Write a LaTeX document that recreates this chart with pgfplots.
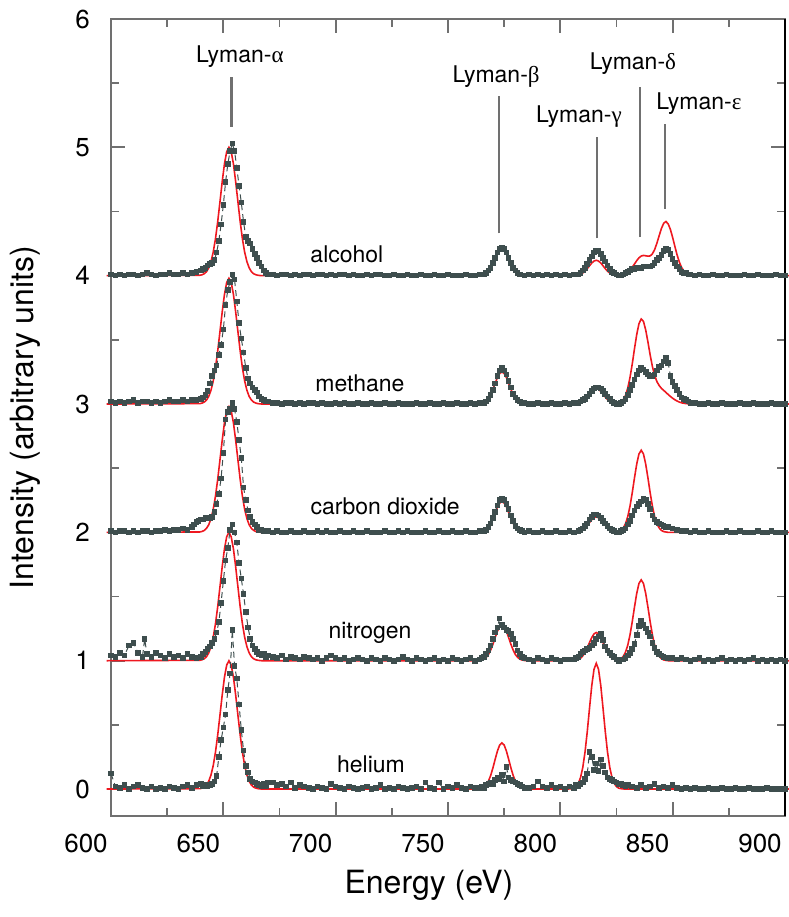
\documentclass[border=0pt]{standalone}
\usepackage{fontspec}
\setmainfont{TeX Gyre Heros}
\newfontfamily\greekfont{Liberation Serif}
\usepackage{pgfplots}
\pgfplotsset{compat=1.18}
\usetikzlibrary{calc}
\definecolor{dgray}{RGB}{62,78,78}
\definecolor{fitred}{RGB}{238,24,32}
\definecolor{axgray}{RGB}{112,112,112}
\begin{document}
\begin{tikzpicture}
\begin{axis}[
  scale only axis, width=337pt, height=398.5pt,
  xmin=600, xmax=900, ymin=-0.21, ymax=6,
  xtick={600,650,...,900}, minor xtick={625,675,...,875},
  ytick={0,1,...,6}, minor ytick={0.5,1.5,...,5.5},
  tick align=inside, major tick length=7pt, minor tick length=4pt,
  tick style={axgray, line width=0.9pt},
  axis line style={axgray, line width=1pt},
  ticklabel style={font=\fontsize{13}{13}\selectfont},
  /pgf/number format/assume math mode=true,
  /pgf/number format/1000 sep={},
  xticklabel style={xshift=-12.5pt, yshift=-5.5pt},
  yticklabel style={xshift=-7pt},
  xlabel={Energy (eV)}, ylabel={Intensity (arbitrary units)},
  label style={font=\fontsize{16}{16}\selectfont},
  xlabel style={at={(axis description cs:0.5,0)}, anchor=center, yshift=-34.5pt, xshift=-9.5pt},
  ylabel style={at={(axis description cs:0,0.5)}, anchor=center, rotate=0, yshift=43pt},
  clip=false,
]
% ---------------- fits (red) ----------------
\addplot[fitred, line width=0.8pt] coordinates {(598,4) (639.5,4.003) (640.5,4.007) (641.5,4.015) (642.5,4.031) (643.5,4.061) (644.5,4.109) (645.5,4.183) (646.5,4.287) (647.5,4.421) (648.5,4.575) (649.5,4.732) (650.5,4.871) (651.5,4.966) (652.5,5.0) (653.5,4.966) (654.5,4.871) (655.5,4.732) (656.5,4.575) (657.5,4.421) (658.5,4.287) (659.5,4.183) (660.5,4.109) (661.5,4.061) (662.5,4.031) (663.5,4.015) (664.5,4.007) (665.5,4.003) (667,4)
(763,4) (764,4.002) (765,4.004) (766,4.010) (767,4.021) (768,4.040) (769,4.068) (770,4.105) (771,4.148) (772,4.189) (773,4.219) (774,4.230) (775,4.219) (776,4.189) (777,4.148) (778,4.105) (779,4.068) (780,4.040) (781,4.021) (782,4.010) (783,4.004) (784,4.002) (785,4)
(805,4) (806,4.001) (807,4.002) (808,4.005) (809,4.011) (810,4.021) (811,4.035) (812,4.055) (813,4.077) (814,4.099) (815,4.114) (816,4.120) (817,4.114) (818,4.099) (819,4.077) (820,4.055) (821,4.035) (822,4.021) (823,4.011) (824,4.005) (825,4.003) (826,4.003) (827,4.004) (828,4.008) (829,4.015) (830,4.027) (831,4.044) (832,4.066) (833,4.091) (834,4.117) (835,4.139) (836,4.153) (837,4.158) (838,4.155) (839,4.152) (840,4.154) (841,4.171) (842,4.204) (843,4.254) (844,4.312) (845,4.368) (846,4.408) (847,4.422) (848,4.404) (849,4.360) (850,4.297) (851,4.227) (852,4.160) (853,4.105) (854,4.063) (855,4.036) (856,4.019) (857,4.009) (858,4.004) (859,4.002) (860,4) (902,4)};
\addplot[fitred, line width=0.8pt] coordinates {(598,3) (639.5,3.003) (640.5,3.007) (641.5,3.015) (642.5,3.031) (643.5,3.059) (644.5,3.107) (645.5,3.179) (646.5,3.281) (647.5,3.413) (648.5,3.564) (649.5,3.717) (650.5,3.854) (651.5,3.947) (652.5,3.98) (653.5,3.947) (654.5,3.854) (655.5,3.717) (656.5,3.564) (657.5,3.413) (658.5,3.281) (659.5,3.179) (660.5,3.107) (661.5,3.059) (662.5,3.031) (663.5,3.015) (664.5,3.007) (665.5,3.003) (667,3)
(763,3) (764,3.002) (765,3.005) (766,3.011) (767,3.023) (768,3.043) (769,3.074) (770,3.115) (771,3.161) (772,3.206) (773,3.238) (774,3.250) (775,3.238) (776,3.206) (777,3.161) (778,3.115) (779,3.074) (780,3.043) (781,3.023) (782,3.011) (783,3.005) (784,3.002) (785,3)
(805,3) (806,3.001) (807,3.002) (808,3.005) (809,3.011) (810,3.021) (811,3.035) (812,3.055) (813,3.077) (814,3.099) (815,3.114) (816,3.120) (817,3.114) (818,3.099) (819,3.077) (820,3.055) (821,3.035) (822,3.021) (823,3.011) (824,3.006) (825,3.005) (826,3.007) (827,3.015) (828,3.034) (829,3.067) (830,3.123) (831,3.205) (832,3.310) (833,3.430) (834,3.541) (835,3.626) (836,3.663) (837,3.644) (838,3.577) (839,3.483) (840,3.381) (841,3.291) (842,3.222) (843,3.174) (844,3.144) (845,3.122) (846,3.106) (847,3.091) (848,3.074) (849,3.059) (850,3.045) (851,3.033) (852,3.023) (853,3.015) (854,3.009) (855,3.006) (856,3.003) (857,3.002) (858,3.001) (860,3) (902,3)};
\addplot[fitred, line width=0.8pt] coordinates {(598,2) (639.5,2.003) (640.5,2.007) (641.5,2.015) (642.5,2.031) (643.5,2.059) (644.5,2.107) (645.5,2.179) (646.5,2.281) (647.5,2.413) (648.5,2.564) (649.5,2.717) (650.5,2.854) (651.5,2.947) (652.5,2.98) (653.5,2.947) (654.5,2.854) (655.5,2.717) (656.5,2.564) (657.5,2.413) (658.5,2.281) (659.5,2.179) (660.5,2.107) (661.5,2.059) (662.5,2.031) (663.5,2.015) (664.5,2.007) (665.5,2.003) (667,2)
(763,2) (764,2.002) (765,2.005) (766,2.011) (767,2.022) (768,2.041) (769,2.071) (770,2.110) (771,2.155) (772,2.198) (773,2.228) (774,2.240) (775,2.228) (776,2.198) (777,2.155) (778,2.110) (779,2.071) (780,2.041) (781,2.022) (782,2.011) (783,2.005) (784,2.002) (785,2)
(805,2) (806,2.001) (807,2.002) (808,2.005) (809,2.011) (810,2.021) (811,2.035) (812,2.055) (813,2.077) (814,2.099) (815,2.114) (816,2.120) (817,2.114) (818,2.099) (819,2.077) (820,2.055) (821,2.035) (822,2.021) (823,2.011) (824,2.006) (825,2.005) (826,2.007) (827,2.015) (828,2.034) (829,2.067) (830,2.122) (831,2.203) (832,2.307) (833,2.424) (834,2.532) (835,2.611) (836,2.640) (837,2.611) (838,2.532) (839,2.424) (840,2.307) (841,2.203) (842,2.122) (843,2.067) (844,2.034) (845,2.015) (846,2.006) (847,2.003) (848,2) (902,2)};
\addplot[fitred, line width=0.8pt] coordinates {(598,1) (639.5,1.003) (640.5,1.007) (641.5,1.015) (642.5,1.031) (643.5,1.061) (644.5,1.109) (645.5,1.183) (646.5,1.287) (647.5,1.421) (648.5,1.575) (649.5,1.732) (650.5,1.871) (651.5,1.966) (652.5,2.0) (653.5,1.966) (654.5,1.871) (655.5,1.732) (656.5,1.575) (657.5,1.421) (658.5,1.287) (659.5,1.183) (660.5,1.109) (661.5,1.061) (662.5,1.031) (663.5,1.015) (664.5,1.007) (665.5,1.003) (667,1)
(763,1) (764,1.002) (765,1.005) (766,1.012) (767,1.026) (768,1.048) (769,1.083) (770,1.128) (771,1.180) (772,1.230) (773,1.267) (774,1.280) (775,1.267) (776,1.230) (777,1.180) (778,1.128) (779,1.083) (780,1.048) (781,1.026) (782,1.012) (783,1.005) (784,1.002) (785,1)
(803,1) (804,1.000) (805,1.001) (806,1.002) (807,1.004) (808,1.010) (809,1.020) (810,1.038) (811,1.065) (812,1.101) (813,1.142) (814,1.181) (815,1.209) (816,1.220) (817,1.209) (818,1.181) (819,1.142) (820,1.101) (821,1.065) (822,1.038) (823,1.020) (824,1.011) (825,1.007) (826,1.008) (827,1.016) (828,1.033) (829,1.066) (830,1.120) (831,1.200) (832,1.302) (833,1.417) (834,1.524) (835,1.602) (836,1.630) (837,1.602) (838,1.524) (839,1.417) (840,1.302) (841,1.200) (842,1.120) (843,1.066) (844,1.033) (845,1.015) (846,1.006) (847,1.003) (848,1) (902,1)};
\addplot[fitred, line width=0.8pt] coordinates {(598,0) (639.5,0.003) (640.5,0.007) (641.5,0.015) (642.5,0.031) (643.5,0.061) (644.5,0.109) (645.5,0.183) (646.5,0.287) (647.5,0.421) (648.5,0.575) (649.5,0.732) (650.5,0.871) (651.5,0.966) (652.5,1.0) (653.5,0.966) (654.5,0.871) (655.5,0.732) (656.5,0.575) (657.5,0.421) (658.5,0.287) (659.5,0.183) (660.5,0.109) (661.5,0.061) (662.5,0.031) (663.5,0.015) (664.5,0.007) (665.5,0.003) (667,0)
(763,0) (764,0.003) (765,0.007) (766,0.016) (767,0.033) (768,0.062) (769,0.106) (770,0.165) (771,0.232) (772,0.296) (773,0.343) (774,0.360) (775,0.343) (776,0.296) (777,0.232) (778,0.165) (779,0.106) (780,0.062) (781,0.033) (782,0.016) (783,0.007) (784,0.003) (785,0)
(803,0) (804,0.001) (805,0.003) (806,0.007) (807,0.019) (808,0.043) (809,0.090) (810,0.169) (811,0.289) (812,0.449) (813,0.631) (814,0.807) (815,0.933) (816,0.980) (817,0.933) (818,0.807) (819,0.631) (820,0.449) (821,0.289) (822,0.169) (823,0.090) (824,0.043) (825,0.019) (826,0.007) (827,0.003) (828,0.001) (829,0) (902,0)};
% ---------------- data (gray) ----------------
\pgfplotsset{datastyle/.style={dgray, densely dashed, line width=0.5pt, mark=square*, mark size=1.15pt, mark options={solid, fill=dgray}}}
% alcohol
\addplot[datastyle] coordinates {(600,4.01) (602,4.00) (604,4.01) (606,4.00) (608,4.01) (610,4.01) (612,4.00) (614,4.01) (616,4.02) (618,4.01) (620,4.00) (622,4.01) (624,4.01) (626,4.02) (628,4.01) (630,4.01) (632,4.02) (634,4.01) (636,4.02) (638,4.03)
(640,4.04) (641,4.05) (642,4.06) (643,4.08) (644,4.09) (645,4.10) (646,4.12) (647,4.18) (648,4.27) (649,4.40) (650,4.55) (651,4.73) (652,4.87) (653,4.97) (654,5.03) (655,4.97) (656,4.84) (657,4.70) (658,4.57) (659,4.42) (660,4.30) (661,4.27) (662,4.25) (663,4.21) (664,4.17) (665,4.14) (666,4.10) (667,4.07) (668,4.04) (669,4.02) (670,4.01)
(672,4.01) (674,4.00) (676,4.01) (678,4.01) (680,4.00) (682,4.01) (684,4.00) (686,4.01) (688,4.01) (690,4.00) (692,4.01) (694,4.01) (696,4.00) (698,4.01) (700,4.00) (702,4.01) (704,4.01) (706,4.00) (708,4.01) (710,4.00) (712,4.00) (714,4.01) (716,4.00) (718,4.01) (720,4.01) (722,4.00) (724,4.00) (726,4.01) (728,4.00) (730,4.00) (732,4.01) (734,4.00) (736,4.00) (738,4.01) (740,4.00) (742,4.00) (744,4.01) (746,4.00) (748,4.00) (750,4.01) (752,4.00) (754,4.00) (756,4.00) (758,4.01) (760,4.00) (762,4.00) (764,4.01)
(766,4.01) (767,4.02) (768,4.04) (769,4.06) (770,4.10) (771,4.14) (772,4.18) (773,4.21) (774,4.22) (775,4.21) (776,4.18) (777,4.14) (778,4.10) (779,4.06) (780,4.04) (781,4.02) (782,4.01)
(784,4.00) (786,4.01) (788,4.00) (790,4.01) (792,4.00) (794,4.01) (796,4.00) (798,4.01) (800,4.00) (802,4.01) (804,4.00) (806,4.01)
(808,4.01) (809,4.02) (810,4.04) (811,4.06) (812,4.09) (813,4.12) (814,4.15) (815,4.18) (816,4.19) (817,4.19) (818,4.17) (819,4.14) (820,4.11) (821,4.08) (822,4.05) (823,4.03) (824,4.02) (825,4.01) (826,4.00) (827,4.00) (828,4.01)
(829,4.02) (830,4.03) (831,4.04) (832,4.05) (833,4.05) (834,4.06) (835,4.06) (836,4.06) (837,4.07) (838,4.07) (839,4.07) (840,4.07) (841,4.08) (842,4.10) (843,4.12) (844,4.14) (845,4.16) (846,4.19) (847,4.21) (848,4.20) (849,4.17) (850,4.13) (851,4.10) (852,4.07) (853,4.05) (854,4.03) (855,4.02) (856,4.02) (857,4.01) (858,4.01)
(860,4.00) (862,4.01) (864,4.00) (866,4.00) (868,4.01) (870,4.00) (872,4.00) (874,4.01) (876,4.00) (878,4.00) (880,4.00) (882,4.01) (884,4.00) (886,4.00) (888,4.01) (890,4.00) (892,4.00) (894,4.00) (896,4.01) (898,4.00) (900,4.00)};
% methane
\addplot[datastyle] coordinates {(600,3.02) (602,3.01) (604,3.02) (606,3.01) (608,3.02) (610,3.03) (612,3.01) (614,3.02) (616,3.02) (618,3.01) (620,3.02) (622,3.01) (624,3.02) (626,3.03) (628,3.02) (630,3.02) (632,3.03) (634,3.02) (636,3.03) (638,3.03)
(640,3.04) (641,3.05) (642,3.07) (643,3.10) (644,3.16) (645,3.22) (646,3.26) (647,3.30) (648,3.38) (649,3.46) (650,3.58) (651,3.77) (652,3.89) (653,3.95) (654,4.01) (655,3.97) (656,3.80) (657,3.63) (658,3.51) (659,3.40) (660,3.28) (661,3.20) (662,3.16) (663,3.13) (664,3.11) (665,3.09) (666,3.06) (667,3.04) (668,3.03) (669,3.02) (670,3.02)
(672,3.01) (674,3.01) (676,3.00) (678,3.01) (680,3.01) (682,3.00) (684,3.01) (686,3.00) (688,3.01) (690,3.01) (692,3.00) (694,3.01) (696,3.00) (698,3.00) (700,3.01) (702,3.00) (704,3.01) (706,3.00) (708,3.00) (710,3.01) (712,3.00) (714,3.00) (716,3.01) (718,3.00) (720,3.00) (722,3.01) (724,3.00) (726,3.00) (728,3.01) (730,3.00) (732,3.00) (734,3.00) (736,3.01) (738,3.00) (740,3.00) (742,3.01) (744,3.00) (746,3.00) (748,3.01) (750,3.00) (752,3.00) (754,3.01) (756,3.00) (758,3.00) (760,3.01) (762,3.00) (764,3.01)
(766,3.01) (767,3.02) (768,3.04) (769,3.07) (770,3.11) (771,3.16) (772,3.22) (773,3.26) (774,3.28) (775,3.26) (776,3.23) (777,3.18) (778,3.13) (779,3.08) (780,3.05) (781,3.03) (782,3.02) (783,3.01)
(784,3.01) (786,3.00) (788,3.00) (790,3.01) (792,3.00) (794,3.00) (796,3.01) (798,3.00) (800,3.00) (802,3.01) (804,3.00) (806,3.01)
(808,3.01) (809,3.02) (810,3.03) (811,3.04) (812,3.06) (813,3.08) (814,3.10) (815,3.12) (816,3.13) (817,3.13) (818,3.12) (819,3.10) (820,3.08) (821,3.06) (822,3.04) (823,3.02) (824,3.01) (825,3.00) (826,3.00)
(827,3.01) (828,3.02) (829,3.04) (830,3.07) (831,3.11) (832,3.15) (833,3.19) (834,3.23) (835,3.26) (836,3.28) (837,3.27) (838,3.25) (839,3.23) (840,3.22) (841,3.22) (842,3.23) (843,3.26) (844,3.29) (845,3.30) (846,3.33) (847,3.36) (848,3.32) (849,3.22) (850,3.17) (851,3.14) (852,3.11) (853,3.08) (854,3.05) (855,3.04) (856,3.03) (857,3.02) (858,3.01)
(860,3.01) (862,3.00) (864,3.00) (866,3.01) (868,3.00) (870,3.00) (872,3.01) (874,3.00) (876,3.00) (878,3.00) (880,3.01) (882,3.00) (884,3.00) (886,3.01) (888,3.00) (890,3.00) (892,3.00) (894,3.01) (896,3.00) (898,3.00) (900,3.00)};
% carbon dioxide
\addplot[datastyle] coordinates {(600,2.01) (602,2.00) (604,2.01) (606,2.01) (608,2.00) (610,2.01) (612,2.00) (614,2.01) (616,2.01) (618,2.00) (620,2.01) (622,2.01) (624,2.02) (626,2.01) (628,2.02) (630,2.02) (632,2.03) (634,2.02)
(636,2.04) (637,2.06) (638,2.08) (639,2.09) (640,2.10) (641,2.10) (642,2.11) (643,2.11) (644,2.11) (645,2.12) (646,2.16) (647,2.22) (648,2.30) (649,2.42) (650,2.62) (651,2.88) (652,2.94) (653,2.96) (654,3.01) (655,2.96) (656,2.86) (657,2.72) (658,2.58) (659,2.35) (660,2.25) (661,2.17) (662,2.12) (663,2.08) (664,2.06) (665,2.04) (666,2.02) (667,2.02) (668,2.01)
(670,2.01) (672,2.00) (674,2.01) (676,2.00) (678,2.00) (680,2.01) (682,2.00) (684,2.00) (686,2.01) (688,2.00) (690,2.00) (692,2.01) (694,2.00) (696,2.01) (698,2.00) (700,2.00) (702,2.01) (704,2.00) (706,2.00) (708,2.01) (710,2.00) (712,2.00) (714,2.01) (716,2.00) (718,2.00) (720,2.00) (722,2.01) (724,2.00) (726,2.00) (728,2.01) (730,2.00) (732,2.01) (734,2.00) (736,2.00) (738,2.00) (740,2.01) (742,2.00) (744,2.00) (746,2.01) (748,2.00) (750,2.00) (752,2.01) (754,2.00) (756,2.00) (758,2.01) (760,2.00) (762,2.00) (764,2.01)
(766,2.01) (767,2.02) (768,2.04) (769,2.07) (770,2.11) (771,2.16) (772,2.21) (773,2.25) (774,2.26) (775,2.25) (776,2.22) (777,2.18) (778,2.13) (779,2.09) (780,2.05) (781,2.03) (782,2.02) (783,2.01)
(784,2.00) (786,2.01) (788,2.00) (790,2.00) (792,2.01) (794,2.00) (796,2.00) (798,2.01) (800,2.00) (802,2.00) (804,2.01) (806,2.00)
(808,2.01) (809,2.02) (810,2.03) (811,2.05) (812,2.07) (813,2.10) (814,2.12) (815,2.14) (816,2.14) (817,2.13) (818,2.11) (819,2.09) (820,2.07) (821,2.05) (822,2.03) (823,2.02) (824,2.01) (825,2.00) (826,2.00)
(827,2.01) (828,2.02) (829,2.03) (830,2.06) (831,2.09) (832,2.13) (833,2.17) (834,2.20) (835,2.22) (836,2.24) (837,2.26) (838,2.25) (839,2.22) (840,2.18) (841,2.13) (842,2.10) (843,2.08) (844,2.07) (845,2.06) (846,2.05) (847,2.04) (848,2.04) (850,2.03) (852,2.02) (854,2.01) (856,2.01)
(858,2.00) (860,2.01) (862,2.00) (864,2.00) (866,2.01) (868,2.00) (870,2.00) (872,2.00) (874,2.01) (876,2.00) (878,2.00) (880,2.01) (882,2.00) (884,2.00) (886,2.00) (888,2.01) (890,2.00) (892,2.00) (894,2.01) (896,2.00) (898,2.00) (900,2.00)};
% nitrogen
\addplot[datastyle] coordinates {(600,1.04) (602,1.03) (604,1.06) (606,1.04) (608,1.12) (610,1.14) (612,1.06) (614,1.03) (615,1.17) (616,1.05) (618,1.03) (620,1.06) (622,1.04) (624,1.02) (626,1.05) (628,1.03) (630,1.04) (632,1.02) (634,1.05) (636,1.03) (638,1.02)
(640,1.03) (641,1.05) (642,1.07) (643,1.09) (644,1.11) (645,1.14) (646,1.17) (647,1.22) (648,1.30) (649,1.45) (650,1.62) (651,1.78) (652,1.88) (653,2.02) (654,2.06) (655,2.00) (656,1.92) (657,1.76) (658,1.64) (659,1.52) (660,1.38) (661,1.26) (662,1.17) (663,1.12) (664,1.09) (665,1.07) (666,1.05) (667,1.04) (668,1.05) (669,1.03) (670,1.04)
(672,1.03) (674,1.02) (676,1.04) (678,1.01) (680,1.03) (682,1.02) (684,1.01) (686,1.03) (688,1.02) (690,1.01) (692,1.02) (694,1.00) (696,1.02) (698,1.04) (700,1.02) (702,1.01) (704,1.02) (706,1.00) (708,1.01) (710,1.02) (712,1.01) (714,1.00) (716,1.02) (718,1.01) (720,1.00) (722,1.02) (724,1.01) (726,1.00) (728,1.01) (730,1.03) (732,1.01) (734,1.00) (736,1.02) (738,1.01) (740,1.00) (742,1.01) (744,1.02) (746,1.00) (748,1.01) (750,1.00) (752,1.02) (754,1.01) (756,1.00) (758,1.01) (760,1.02) (762,1.00)
(764,1.01) (765,1.02) (766,1.03) (767,1.05) (768,1.08) (769,1.12) (770,1.17) (771,1.22) (772,1.26) (773,1.33) (774,1.28) (775,1.26) (776,1.24) (777,1.23) (778,1.21) (779,1.17) (780,1.13) (781,1.08) (782,1.05) (783,1.03) (784,1.02)
(786,1.01) (788,1.00) (790,1.02) (792,1.01) (794,1.00) (796,1.02) (798,1.01) (800,1.00) (802,1.01) (804,1.01)
(806,1.01) (807,1.02) (808,1.03) (809,1.05) (810,1.07) (811,1.08) (812,1.09) (813,1.10) (814,1.12) (815,1.14) (816,1.17) (817,1.19) (818,1.21) (819,1.16) (820,1.11) (821,1.08) (822,1.06) (823,1.04) (824,1.03) (825,1.01) (826,1.00) (827,1.01)
(828,1.01) (829,1.02) (830,1.04) (831,1.06) (832,1.09) (833,1.13) (834,1.20) (835,1.27) (836,1.31) (837,1.28) (838,1.25) (839,1.22) (840,1.19) (841,1.14) (842,1.10) (843,1.07) (844,1.05) (845,1.04) (846,1.03) (848,1.02) (850,1.02)
(852,1.01) (854,1.02) (856,1.01) (858,1.00) (860,1.01) (862,1.02) (864,1.00) (866,1.01) (868,1.00) (870,1.01) (872,1.02) (874,1.00) (876,1.01) (878,1.00) (880,1.01) (882,1.00) (884,1.01) (886,1.02) (888,1.00) (890,1.01) (892,1.00) (894,1.01) (896,1.00) (898,1.01) (900,1.00)};
% helium
\addplot[datastyle] coordinates {(600,0.12) (602,0.02) (604,0.01) (606,0.03) (608,0.00) (610,0.02) (612,0.03) (614,0.01) (616,0.00) (618,0.02) (620,0.00) (622,0.01) (624,0.00) (626,0.02) (628,0.01) (630,0.00) (632,0.02) (634,0.03) (636,0.01) (638,0.03)
(640,0.04) (641,0.02) (642,0.03) (643,0.02) (644,0.03) (645,0.04) (646,0.06) (647,0.10) (648,0.25) (649,0.38) (650,0.48) (651,0.58) (652,0.77) (653,0.90) (654,1.24) (655,0.96) (656,0.86) (657,0.66) (658,0.46) (659,0.30) (660,0.18) (661,0.13) (662,0.08) (663,0.06) (664,0.05) (665,0.04) (666,0.03) (667,0.02) (668,0.04) (669,0.02) (670,0.05)
(672,0.05) (674,0.03) (676,0.04) (678,0.02) (680,0.05) (682,0.01) (684,0.03) (686,0.02) (688,0.01) (690,0.00) (692,0.02) (694,0.01) (696,0.00) (698,0.04) (700,0.02) (702,0.01) (704,0.00) (706,0.02) (708,0.01) (710,0.00) (712,0.01) (714,0.02) (716,0.00) (718,0.01) (720,0.03) (722,0.00) (724,0.01) (726,0.00) (728,0.02) (730,0.01) (732,0.00) (734,0.01) (736,0.02) (738,0.00) (740,0.05) (742,0.01) (744,0.00) (746,0.05) (748,0.00) (750,0.02) (752,0.01) (754,0.03) (756,0.01) (758,0.00) (760,0.02) (762,0.01)
(764,0.01) (765,0.02) (766,0.01) (767,0.03) (768,0.04) (769,0.05) (770,0.04) (771,0.07) (772,0.09) (773,0.08) (774,0.11) (775,0.06) (776,0.17) (777,0.09) (778,0.07) (779,0.06) (780,0.05) (781,0.04) (782,0.03) (783,0.02) (784,0.01)
(786,0.01) (788,0.02) (790,0.06) (792,0.02) (794,0.01) (796,0.03) (798,0.01) (800,0.02) (802,0.00) (804,0.02)
(806,0.01) (807,0.03) (808,0.02) (809,0.04) (810,0.05) (811,0.08) (812,0.12) (813,0.29) (814,0.25) (815,0.15) (816,0.20) (817,0.14) (818,0.23) (819,0.18) (820,0.13) (821,0.09) (822,0.08) (823,0.07) (824,0.06) (825,0.05) (826,0.04) (827,0.04) (828,0.03) (829,0.02) (830,0.03)
(832,0.02) (834,0.01) (836,0.03) (838,0.01) (840,0.02) (842,0.04) (844,0.01) (846,0.02) (848,0.01) (850,0.03) (852,0.01) (854,0.00) (856,0.01) (858,0.00) (860,0.01) (862,0.00) (864,0.00) (866,0.01) (868,0.00) (870,0.00) (872,0.01) (874,0.00) (876,0.00) (878,0.01) (880,0.00) (882,0.00) (884,0.01) (886,0.00) (888,0.00) (890,0.00) (892,0.01) (894,0.00) (896,0.00) (898,0.00) (900,0.00)};
% ---------------- annotations ----------------
\draw[axgray, line width=1.3pt] (axis cs:653.7,5.16) -- (axis cs:653.7,5.55);
\draw[axgray, line width=1.3pt] (axis cs:772.7,4.33) -- (axis cs:772.7,5.40);
\draw[axgray, line width=1.3pt] (axis cs:816.3,4.29) -- (axis cs:816.3,5.08);
\draw[axgray, line width=1.3pt] (axis cs:835.5,4.30) -- (axis cs:835.5,5.47);
\draw[axgray, line width=1.3pt] (axis cs:846.6,4.52) -- (axis cs:846.6,5.18);
\begin{scope}[every node/.style={font=\fontsize{11.5}{11.5}\selectfont, inner sep=0pt}]
\node at (axis cs:657.4,5.705) {Lyman-{\greekfont α}};
\node at (axis cs:771.4,5.55) {Lyman-{\greekfont β}};
\node at (axis cs:808.3,5.24) {Lyman-{\greekfont γ}};
\node at (axis cs:832.3,5.65) {Lyman-{\greekfont δ}};
\node at (axis cs:861.7,5.34) {Lyman-{\greekfont ε}};
\node at (axis cs:705.0,4.17) {alcohol};
\node at (axis cs:710.8,3.16) {methane};
\node at (axis cs:722.0,2.20) {carbon dioxide};
\node at (axis cs:715.3,1.22) {nitrogen};
\node at (axis cs:715.7,0.195) {helium};
\end{scope}
\draw[black, line width=1pt] (rel axis cs:1,0) -- (rel axis cs:1,1);
\end{axis}
\pgfresetboundingbox
\path[use as bounding box] ($(current axis.south west)+(-55.5pt,-50.5pt)$) rectangle ($(current axis.north east)+(2pt,9.5pt)$);
\end{tikzpicture}
\end{document}
